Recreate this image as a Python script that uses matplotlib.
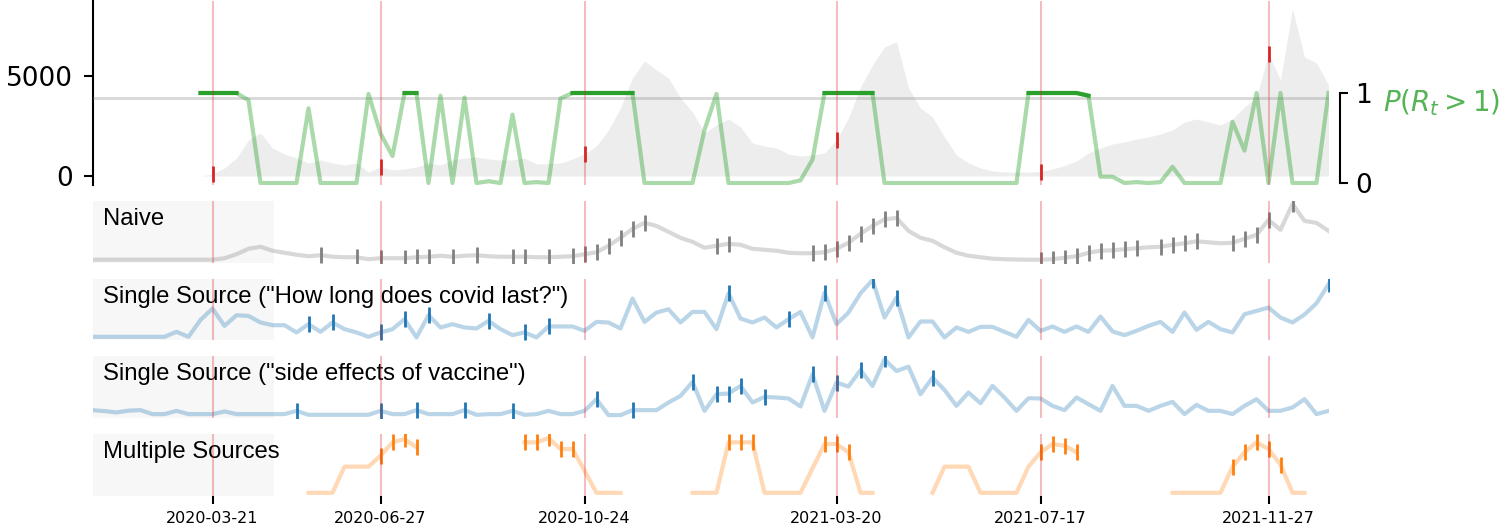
import numpy as np
import pandas as pd
import matplotlib
matplotlib.use("Agg")
from matplotlib import pyplot as plt
import matplotlib.dates as mdates
from matplotlib.patches import Rectangle

nan = np.nan
weeks = pd.date_range("2020-01-11", periods=104, freq="7D")
events = [10, 24, 41, 62, 79, 98]   # week index of the marked dates

# weekly cases (grey area)
cases = [0]*10 + [100, 400, 900, 1800, 2150, 1400, 1100, 900, 650, 800,
         650, 550, 650, 200, 450, 300, 350, 450, 650, 550,
         800, 900, 950, 850, 800, 800, 900, 600, 620, 650,
         850, 1100, 1500, 2300, 3400, 4900, 5750, 5300, 4900, 3900,
         3200, 2150, 2550, 2850, 2450, 1650, 1500, 1400, 1100, 1000,
         1050, 1150, 1800, 2900, 4450, 5550, 6450, 6700, 4400, 3400,
         2950, 1950, 1050, 650, 400, 250, 200, 200, 200, 220,
         350, 520, 750, 1150, 1400, 1600, 1700, 1850, 1950, 2100,
         2300, 2700, 2850, 2700, 2550, 2850, 3450, 3950, 6100, 4800,
         8350, 5950, 5650, 4550]

# P(R_t > 1)
p_rt = [nan]*9 + [1.0, 1.0, 1.0, 1.0, 0.92, 0, 0, 0, 0, 0.83, 0,
        0, 0, 0, 0.99, 0.55, 0.30, 1.0, 1.0, 0, 0.97,
        0, 0.95, 0, 0.02, 0, 0.76, 0, 0.01, 0, 0.94,
        1.0, 1.0, 1.0, 1.0, 1.0, 1.0, 0, 0, 0, 0,
        0, 0.59, 0.99, 0, 0, 0, 0, 0, 0, 0.03,
        0.26, 1.0, 1.0, 1.0, 1.0, 1.0, 0, 0, 0, 0,
        0, 0, 0, 0, 0, 0, 0, 0, 1.0, 1.0,
        1.0, 1.0, 1.0, 0.97, 0.07, 0.07, 0, 0.01, 0, 0.01,
        0.18, 0, 0, 0, 0, 0.68, 0.36, 1.0, 0, 1.0,
        0, 0, 0, 1.0]

naive = [0]*10 + [0, 1.5, 5.5, 11, 13, 9, 7, 5, 3.5, 4.5,
         3, 2.5, 2.5, 0.5, 1.5, 1.5, 1.5, 2.5, 3, 4,
         3, 4, 4.5, 3.5, 3, 3, 3, 2.5, 2.5, 3,
         3.5, 5.5, 7.5, 14, 22, 31, 37, 34, 28, 22,
         18, 12, 14, 16, 15, 11, 10, 9, 7, 6.5,
         6.5, 7.5, 11, 17, 26, 34, 40.5, 42, 29, 22,
         19, 12.5, 7, 4, 2.5, 1, 0.5, 0.2, 0, 0,
         0.5, 2, 3.5, 7, 9, 9.5, 10.5, 11.5, 12.5, 13,
         15, 16.5, 18.5, 17.5, 16.5, 17, 21, 25, 40, 30,
         56, 39, 37, 29]
naive_marks = [19, 22, 24, 26, 27, 28, 30, 32, 35, 36, 38, 40, 41, 42, 43, 44, 45, 46,
               52, 53, 60, 61, 62, 63, 64, 65, 66, 67, 79, 80, 81, 82, 83, 84, 85, 86,
               87, 89, 90, 91, 92, 95, 96, 97, 98, 100]

ss_covid = [0.6]*7 + [5.6, 0.6, 17.6, 29, 11.6, 22.3, 21.6, 15, 12.3, 12.3,
            5, 13.3, 5.6, 15, 8.3, 5, 0.6, 5, 8.3, 18.3,
            0, 22.3, 10, 13.3, 10, 9, 16.6, 8.3, 2.3, 5,
            0, 11, 11, 11, 6.6, 15.6, 15, 9, 39, 15.6,
            25, 28.3, 15, 25.6, 25.6, 8.3, 44.3, 19, 15, 20,
            10, 18.3, 25.6, 0, 45, 13.3, 25, 44.3, 57.6, 20,
            40, 0, 16, 16, 0, 10, 5.6, 10.6, 10.6, 5.6,
            0.6, 17.6, 6.6, 11, 5.6, 11, 5.6, 21, 6, 2.3,
            6.6, 11.6, 15.6, 5.6, 25, 7.6, 15.6, 8.3, 5, 23.3,
            26.6, 30, 20, 15, 23, 34.3, 53.3]
ss_covid_marks = [18, 20, 24, 26, 28, 33, 36, 38, 53, 58, 61, 65, 67, 103]

ss_vaccine = [5, 4, 2.7, 4.5, 5, 1, 1, 4.3, 1, 1,
              1, 3.7, 1, 1, 1, 1, 1, 4.3, 0.3, 0.3,
              0.3, 0.3, 0.3, 0.3, 4.3, 1, 1, 5, 1, 1,
              1, 5, 0.3, 1, 1, 4.3, 0.3, 1, 4.3, 1,
              1, 4.3, 16, 0, 0, 5, 5, 5, 12.7, 19.3,
              33.3, 4.3, 21, 21.7, 29.3, 12.7, 18.3, 17.7, 16.7, 8.7,
              41, 4.3, 32.7, 28.7, 45.3, 29.3, 56, 44.3, 48.7, 21,
              37.7, 25.3, 9.3, 22.7, 12, 29.3, 17.7, 4.3, 17, 16.7,
              9.3, 5, 17.7, 11, 4.3, 29.3, 9.3, 9.3, 4.3, 9.3,
              13.3, 1, 10.3, 4.3, 4.3, 1, 9.3, 16, 4.3, 4.3,
              7.7, 16, 1, 4.3]
ss_vaccine_marks = [17, 24, 27, 31, 35, 42, 45, 50, 52, 53, 54, 56, 60, 62, 64, 66, 70]

multi = [nan]*18 + [0, 0, 0, 26.3, 26.3, 26.3, 37.3, 50.7, 54, 45.7] + [nan]*8 + \
        [50.7, 50.7, 55, 44, 44, 22.3, 0, 0, 0] + [nan]*5 + \
        [0, 0, 0, 50.7, 50.7, 50.7, 0, 0, 0, 0, 24.5, 49, 49, 40.7, 0, 0] + [nan]*4 + \
        [0, 26.3, 26.3, 26.3, 0, 0, 0, 0, 26.3, 40.7, 49, 47.3, 40.7] + [nan]*7 + \
        [0, 0, 0, 0, 0, 26.3, 40.7, 50.7, 44, 28.3, 0, 0] + [nan]*2
multi_marks = [24, 25, 26, 27, 36, 37, 38, 39, 40, 53, 54, 55, 61, 62, 63,
               79, 80, 81, 82, 95, 96, 97, 98, 99]

W_PX, H_PX = 1512, 532
fig = plt.figure(figsize=(W_PX/100, H_PX/100), dpi=100)
left, width = 92.5/W_PX, 1236/W_PX
xlim = (weeks[0], weeks[-1])

# --- top panel: cases + P(R_t>1)
ax = fig.add_axes([left, 1 - 185/H_PX, width, 184/H_PX])
ax.fill_between(weeks, cases, color="lightgrey", alpha=0.4, lw=0)
ax.plot(weeks[events], np.array(cases)[events], ls="none", marker="|",
        ms=11, mew=2, color="tab:red")
ax.set_xlim(xlim)
ax.set_ylim(-450, 8750)
ax.set_yticks([0, 5000])
ax.tick_params(axis="y", labelsize=19, length=6.5, width=1.5, pad=7.5)
ax.tick_params(axis="x", bottom=False, labelbottom=False)
for s in ["top", "right", "bottom"]:
    ax.spines[s].set_visible(False)
ax.spines["left"].set_linewidth(1.5)

ax2 = ax.twinx()
p = np.array(p_rt)
ax2.axhline(0.95, color="grey", alpha=0.3, lw=2)
ax2.plot(weeks, p, color="tab:green", alpha=0.4, lw=3)
ax2.plot(weeks, np.where(p > 0.95, p, nan), color="tab:green", lw=3)
for e in events:
    ax2.axvline(weeks[e], color="tab:red", alpha=0.3, lw=1.5, zorder=5)
ax2.set_ylim(-0.022, 2.022)
ax2.set_yticks([0, 1])
ax2.tick_params(axis="y", labelsize=19, length=6, width=1.5, pad=5)
for s in ["top", "left", "bottom"]:
    ax2.spines[s].set_visible(False)
ax2.spines["right"].set_position(("outward", 8.5))
ax2.spines["right"].set_bounds(0, 1)
ax2.spines["right"].set_linewidth(1.5)
ax2.text(1.044, 0.446, r"$P(R_t > 1)$", transform=ax2.transAxes, ha="left",
         va="center", fontsize=20, color="tab:green", alpha=0.8)

# --- signal panels
panels = [
    ("Naive", naive, naive_marks, "grey"),
    ('Single Source ("How long does covid last?")', ss_covid, ss_covid_marks, "tab:blue"),
    ('Single Source ("side effects of vaccine")', ss_vaccine, ss_vaccine_marks, "tab:blue"),
    ("Multiple Sources", multi, multi_marks, "tab:orange"),
]
tops = [201, 278.7, 356.4, 434.1]
for (label, vals, marks, col), top in zip(panels, tops):
    a = fig.add_axes([left, 1 - (top + 61.7)/H_PX, width, 61.7/H_PX])
    v = np.array(vals, dtype=float)
    a.add_patch(Rectangle((0, 0), 0.147, 1, transform=a.transAxes,
                          color="#f7f7f7", lw=0, zorder=0))
    a.plot(weeks, v, color=col, alpha=0.3, lw=3)
    a.plot(weeks[marks], v[marks], ls="none", marker="|", ms=11, mew=2, color=col)
    for e in events:
        a.axvline(weeks[e], color="tab:red", alpha=0.3, lw=1.5, zorder=5)
    a.text(0.0085, 0.885, label, transform=a.transAxes, ha="left", va="top",
           fontsize=17.2, family="Liberation Sans")
    a.set_xlim(xlim)
    a.set_ylim(-3, 59)
    a.set_yticks([])
    for s in a.spines.values():
        s.set_visible(False)
    a.tick_params(axis="x", bottom=False, labelbottom=False)

a.set_xticks(weeks[events])
a.xaxis.set_major_formatter(mdates.DateFormatter("%Y-%m-%d"))
a.tick_params(axis="x", bottom=True, labelbottom=True, length=6, width=1.5,
              labelsize=11.5, pad=5)

plt.savefig("out.png", dpi=100)
